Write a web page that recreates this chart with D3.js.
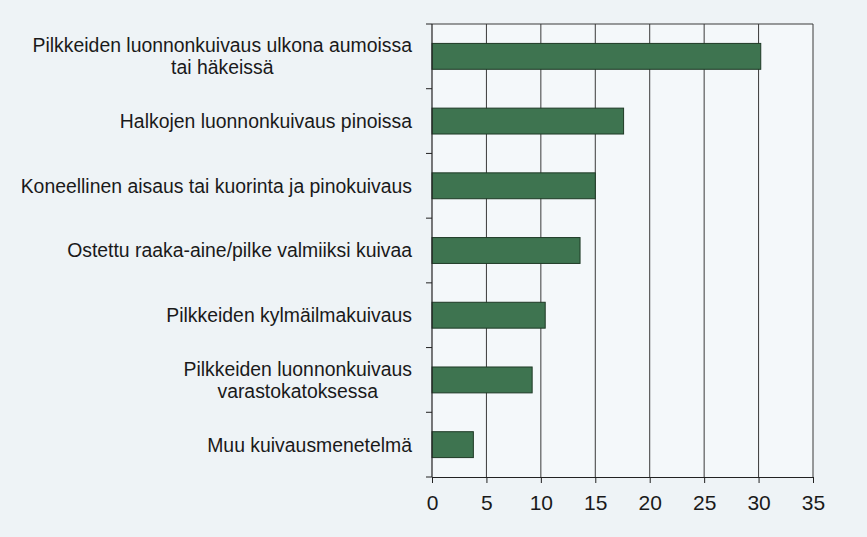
<!DOCTYPE html>
<html>
<head>
<meta charset="utf-8">
<script src="https://cdn.jsdelivr.net/npm/d3@7"></script>
<style>
  body { margin: 0; background: #eef3f6; }
  text { font-family: "Liberation Sans", Arial, Helvetica, sans-serif; fill: #1a1a1a; }
</style>
</head>
<body>
<svg id="chart" width="867" height="537"></svg>
<script>
// categories (top to bottom), line breaks as in the picture
const categories = [
  'Pilkkeiden luonnonkuivaus ulkona aumoissa\ntai häkeissä',
  'Halkojen luonnonkuivaus pinoissa',
  'Koneellinen aisaus tai kuorinta ja pinokuivaus',
  'Ostettu raaka-aine/pilke valmiiksi kuivaa',
  'Pilkkeiden kylmäilmakuivaus',
  'Pilkkeiden luonnonkuivaus\nvarastokatoksessa',
  'Muu kuivausmenetelmä'
];
const values = [30.2, 17.6, 15.0, 13.6, 10.4, 9.2, 3.8];
const xTicks = [0, 5, 10, 15, 20, 25, 30, 35];

const svg = d3.select('#chart');
const margin = { top: 24, right: 54, bottom: 60, left: 432 };
const width = 867 - margin.left - margin.right;
const height = 537 - margin.top - margin.bottom;

const x = d3.scaleLinear().domain([0, 35]).range([0, width]);
const y = d3.scaleBand().domain(categories).range([0, height])
  .paddingInner(0.6).paddingOuter(0.3);

const g = svg.append('g').attr('transform', `translate(${margin.left}, ${margin.top})`);

// plot background
g.append('rect').attr('width', width).attr('height', height).attr('fill', '#f4f8fa');

// vertical grid lines
g.selectAll('.grid')
  .data(xTicks.slice(1))
  .enter()
  .append('line')
  .attr('x1', d => x(d)).attr('x2', d => x(d))
  .attr('y1', 0).attr('y2', height)
  .attr('stroke', '#3a3a3a').attr('stroke-width', 1);

// top border
g.append('line').attr('x1', 0).attr('x2', width).attr('y1', 0).attr('y2', 0)
  .attr('stroke', '#3a3a3a').attr('stroke-width', 1);

// bars
g.selectAll('.bar')
  .data(values)
  .enter()
  .append('rect')
  .attr('class', 'bar')
  .attr('x', x(0))
  .attr('y', (d, i) => y(categories[i]))
  .attr('width', d => x(d) - x(0))
  .attr('height', y.bandwidth())
  .attr('fill', '#3e7450')
  .attr('stroke', '#1f3a26')
  .attr('stroke-width', 1);

// x axis
const xAxis = g.append('g').attr('transform', `translate(0, ${height})`)
  .call(d3.axisBottom(x).tickValues(xTicks).tickSize(6).tickPadding(12));
xAxis.select('.domain').attr('stroke', '#222');
xAxis.selectAll('.tick line').attr('stroke', '#222');
xAxis.selectAll('.tick text')
  .attr('font-size', '21px')
  .attr('font-family', '"Liberation Sans", Arial, sans-serif')
  .attr('fill', '#1a1a1a');

// y axis: line with ticks at band boundaries
const bounds = d3.range(categories.length + 1).map(i => i === categories.length ? height : y.step() * i);
g.append('line').attr('x1', 0).attr('x2', 0).attr('y1', 0).attr('y2', height)
  .attr('stroke', '#222').attr('stroke-width', 1.2);
g.selectAll('.ytick')
  .data(bounds)
  .enter()
  .append('line')
  .attr('x1', -6).attr('x2', 0)
  .attr('y1', d => d).attr('y2', d => d)
  .attr('stroke', '#222');

// category labels: right aligned block, lines centred
const labelRight = -20;
const lineHeight = 22;
categories.forEach(cat => {
  const lines = cat.split('\n');
  const cy = y(cat) + y.bandwidth() / 2;
  const t = g.append('text')
    .attr('font-size', '19.4px')
    .attr('text-anchor', 'middle');
  lines.forEach((ln, j) => {
    t.append('tspan')
      .attr('y', cy + (j - (lines.length - 1) / 2) * lineHeight)
      .attr('dy', '0.36em')
      .text(ln);
  });
  const tspans = t.selectAll('tspan').nodes();
  const w = d3.max(tspans, n => n.getComputedTextLength());
  t.selectAll('tspan').attr('x', labelRight - w / 2);
});
</script>
</body>
</html>
